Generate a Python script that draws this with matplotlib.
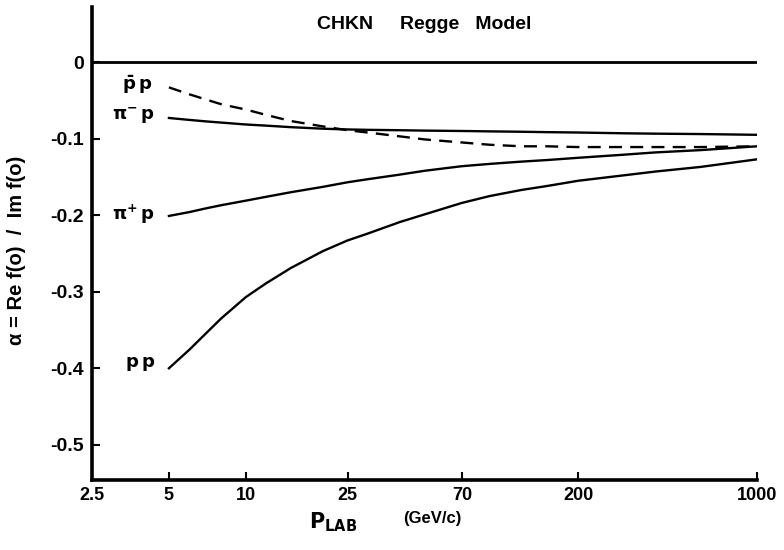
import matplotlib

matplotlib.use("Agg")
import matplotlib.pyplot as plt

INK = "black"

plt.rcParams.update({
    "font.family": ["Liberation Sans", "DejaVu Sans"], "font.weight": "bold",
    "mathtext.fontset": "dejavusans", "mathtext.default": "bf",
    "axes.unicode_minus": False,
})

p_lab = [5, 6, 7, 8, 10, 12, 15, 20, 25, 30, 40, 50, 70, 90, 120, 150, 200, 300, 400, 600, 1000]

# alpha = Re f(0) / Im f(0)
pbar_p = [-0.033, -0.042, -0.049, -0.055, -0.062, -0.069, -0.077, -0.084, -0.089, -0.092, -0.097,
          -0.101, -0.105, -0.108, -0.110, -0.110, -0.111, -0.111, -0.111, -0.111, -0.110]
pim_p = [-0.073, -0.0755, -0.0775, -0.079, -0.0815, -0.083, -0.085, -0.087, -0.088, -0.0885, -0.089,
         -0.0895, -0.090, -0.0905, -0.091, -0.0915, -0.092, -0.093, -0.0935, -0.094, -0.095]
pip_p = [-0.201, -0.196, -0.191, -0.187, -0.181, -0.176, -0.170, -0.163, -0.157, -0.153, -0.147,
         -0.142, -0.136, -0.133, -0.130, -0.128, -0.125, -0.121, -0.118, -0.115, -0.110]
pp = [-0.400, -0.376, -0.354, -0.335, -0.307, -0.289, -0.269, -0.247, -0.233, -0.224, -0.209,
      -0.199, -0.184, -0.175, -0.167, -0.162, -0.155, -0.148, -0.143, -0.137, -0.127]

xticks = [2.5, 5, 10, 25, 70, 200, 1000]
xticklabels = ["2.5", "5", "10", "25", "70", "200", "1000"]
yticks = [0, -0.1, -0.2, -0.3, -0.4, -0.5]
yticklabels = ["0", "-0.1", "-0.2", "-0.3", "-0.4", "-0.5"]

fig = plt.figure(figsize=(7.84, 5.5), dpi=100)
ax = fig.add_axes([92 / 784, 1 - 480 / 550, (757 - 92) / 784, (480 - 7) / 550])

ax.axhline(0, color=INK, lw=2.0)
ax.plot(p_lab, pbar_p, color=INK, lw=1.7, dashes=(5.5, 3.5))
ax.plot(p_lab, pim_p, color=INK, lw=1.7)
ax.plot(p_lab, pip_p, color=INK, lw=1.7)
ax.plot(p_lab, pp, color=INK, lw=1.7)

# curve labels at the left end of each curve
ax.text(4.3, pbar_p[0] + 0.004, r"$\bar{\mathrm{p}}\,\mathrm{p}$", fontsize=13, ha="right", va="center")
ax.text(4.4, pim_p[0] + 0.002, r"$\pi^{-}\,\mathrm{p}$", fontsize=13, ha="right", va="center")
ax.text(4.4, pip_p[0] + 0.002, r"$\pi^{+}\,\mathrm{p}$", fontsize=13, ha="right", va="center")
ax.text(4.4, pp[0] + 0.005, r"$\mathrm{p\,p}$", fontsize=13, ha="right", va="center")

ax.text(0.5, 0.962, "CHKN     Regge   Model", transform=ax.transAxes, fontsize=14,
        ha="center", va="center")

ax.set_xscale("log")
ax.set_xlim(2.5, 1000)
ax.set_ylim(-0.546, 0.072)
ax.set_xticks(xticks)
ax.set_xticklabels(xticklabels, fontsize=13)
ax.xaxis.set_minor_locator(matplotlib.ticker.NullLocator())
ax.set_yticks(yticks)
ax.set_yticklabels(yticklabels, fontsize=14)
ax.tick_params(direction="in", length=6, width=1.5, pad=6)
ax.tick_params(axis="x", pad=5)

ax.set_ylabel("α = Re f(o)  /  Im f(o)", fontsize=14.5, fontweight="bold", va="center")
ax.yaxis.set_label_coords(-0.114, 0.486)
fig.text(333 / 784, 1 - 522 / 550, r"$\mathrm{P_{LAB}}$", fontsize=15, ha="center", va="center")
fig.text(403 / 784, 1 - 519 / 550, "(GeV/c)", fontsize=12, ha="left", va="center")

for s in ("top", "right"):
    ax.spines[s].set_visible(False)
for s in ("left", "bottom"):
    ax.spines[s].set_linewidth(2.6)

fig.savefig("out.png", dpi=100, facecolor="white")
